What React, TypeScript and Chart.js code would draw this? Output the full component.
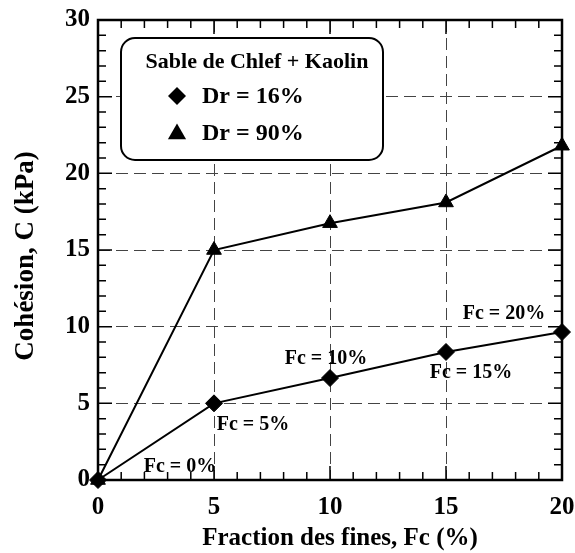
import React, { useEffect, useRef } from "react";
import { Chart, registerables } from "chart.js";

Chart.register(...registerables);

// ---- data ----
const fines = [0, 5, 10, 15, 20];
const cohesionDr16 = [0, 5.0, 6.65, 8.35, 9.65];
const cohesionDr90 = [0, 15.0, 16.75, 18.1, 21.8];
const pointLabels = ["Fc = 0%", "Fc = 5%", "Fc = 10%", "Fc = 15%", "Fc = 20%"];
const seriesNames = ["Dr = 16%", "Dr = 90%"];
const legendTitle = "Sable de Chlef + Kaolin";
const xTitle = "Fraction des fines, Fc (%)";
const yTitle = "Cohésion, C (kPa)";
const xRange = [0, 20];
const yRange = [0, 30];
const majorStep = 5;
const minorStep = 1;

// ---- style / layout ----
const FONT = "'Liberation Serif', 'Times New Roman', serif";
const labelOffsets = [
  { dx: 82, dy: -13 },
  { dx: 39, dy: 21 },
  { dx: -4, dy: -19 },
  { dx: 25, dy: 21 },
  { dx: -58, dy: -18 },
];

const framePlugin = {
  id: "frameTicks",
  beforeDatasetsDraw(chart: any) {
    const { ctx, chartArea: a, scales } = chart;
    const xs = scales.x;
    const ys = scales.y;
    ctx.save();
    ctx.strokeStyle = "#000";
    ctx.lineWidth = 1.5;
    for (let v = xRange[0]; v <= xRange[1] + 1e-9; v += minorStep) {
      const px = xs.getPixelForValue(v);
      const len = v % majorStep === 0 ? 14 : 8;
      ctx.beginPath();
      ctx.moveTo(px, a.bottom);
      ctx.lineTo(px, a.bottom - len);
      ctx.moveTo(px, a.top);
      ctx.lineTo(px, a.top + len);
      ctx.stroke();
    }
    for (let v = yRange[0]; v <= yRange[1] + 1e-9; v += minorStep) {
      const py = ys.getPixelForValue(v);
      const len = v % majorStep === 0 ? 14 : 8;
      ctx.beginPath();
      ctx.moveTo(a.left, py);
      ctx.lineTo(a.left + len, py);
      ctx.moveTo(a.right, py);
      ctx.lineTo(a.right - len, py);
      ctx.stroke();
    }
    ctx.lineWidth = 2.5;
    ctx.strokeRect(a.left, a.top, a.right - a.left, a.bottom - a.top);
    ctx.restore();
  },
};

const annotPlugin = {
  id: "annot",
  afterDatasetsDraw(chart: any) {
    const { ctx } = chart;
    ctx.save();
    // point labels
    const meta = chart.getDatasetMeta(0);
    ctx.fillStyle = "#000";
    ctx.font = `bold 20px ${FONT}`;
    ctx.textAlign = "center";
    ctx.textBaseline = "middle";
    meta.data.forEach((p: any, i: number) => {
      const o = labelOffsets[i];
      ctx.fillText(pointLabels[i], p.x + o.dx, p.y + o.dy);
    });

    // legend box
    const bx = 121, by = 38, bw = 262, bh = 122, r = 14;
    ctx.beginPath();
    ctx.moveTo(bx + r, by);
    ctx.arcTo(bx + bw, by, bx + bw, by + bh, r);
    ctx.arcTo(bx + bw, by + bh, bx, by + bh, r);
    ctx.arcTo(bx, by + bh, bx, by, r);
    ctx.arcTo(bx, by, bx + bw, by, r);
    ctx.closePath();
    ctx.fillStyle = "#fff";
    ctx.fill();
    ctx.lineWidth = 2;
    ctx.strokeStyle = "#000";
    ctx.stroke();

    ctx.fillStyle = "#000";
    ctx.font = `bold 22px ${FONT}`;
    ctx.textAlign = "center";
    ctx.fillText(legendTitle, 257, 62);

    // diamond
    const mx = 177;
    ctx.beginPath();
    ctx.moveTo(mx - 9, 96);
    ctx.lineTo(mx, 87);
    ctx.lineTo(mx + 9, 96);
    ctx.lineTo(mx, 105);
    ctx.closePath();
    ctx.fill();
    // triangle
    const tr = 10.5, ty = 134;
    ctx.beginPath();
    for (let k = 0; k < 3; k++) {
      const ang = (k * 2 * Math.PI) / 3;
      const px = mx + Math.sin(ang) * tr;
      const py = ty - Math.cos(ang) * tr;
      if (k === 0) ctx.moveTo(px, py);
      else ctx.lineTo(px, py);
    }
    ctx.closePath();
    ctx.fill();

    ctx.font = `bold 24px ${FONT}`;
    ctx.textAlign = "left";
    ctx.fillText(seriesNames[0], 202, 97);
    ctx.fillText(seriesNames[1], 202, 134);

    // axis titles
    ctx.font = `bold 25px ${FONT}`;
    ctx.textAlign = "center";
    ctx.fillText(xTitle, 340, 539);
    ctx.save();
    ctx.translate(26, 256);
    ctx.rotate(-Math.PI / 2);
    ctx.font = `bold 27px ${FONT}`;
    ctx.fillText(yTitle, 0, 0);
    ctx.restore();
    ctx.restore();
  },
};

export default function App() {
  const ref = useRef<HTMLCanvasElement | null>(null);
  useEffect(() => {
    if (!ref.current) return;
    const chart = new Chart(ref.current, {
      type: "line",
      data: {
        datasets: [
          {
            label: seriesNames[0],
            data: fines.map((x, i) => ({ x, y: cohesionDr16[i] })),
            borderColor: "#000",
            backgroundColor: "#000",
            borderWidth: 2,
            pointStyle: "rectRot",
            pointRadius: 8.5,
            pointBorderWidth: 1,
            pointBackgroundColor: "#000",
            pointBorderColor: "#000",
            tension: 0,
            clip: false as any,
          },
          {
            label: seriesNames[1],
            data: fines.map((x, i) => ({ x, y: cohesionDr90[i] })),
            borderColor: "#000",
            backgroundColor: "#000",
            borderWidth: 2,
            pointStyle: "triangle",
            pointRadius: 8.5,
            pointBorderWidth: 1,
            pointBackgroundColor: "#000",
            pointBorderColor: "#000",
            tension: 0,
            clip: false as any,
          },
        ],
      },
      options: {
        responsive: false,
        animation: false,
        events: [],
        layout: { padding: { left: 0, right: 13, top: 20, bottom: 0 } },
        plugins: { legend: { display: false }, tooltip: { enabled: false } },
        scales: {
          x: {
            type: "linear",
            min: xRange[0],
            max: xRange[1],
            afterFit: (s: any) => {
              s.height = 73;
              s.paddingLeft = 0;
              s.paddingRight = 0;
            },
            ticks: {
              stepSize: majorStep,
              autoSkip: false,
              maxRotation: 0,
              padding: 13,
              color: "#000",
              font: { family: FONT, size: 25, weight: "bold" },
            },
            grid: { color: "#444", lineWidth: 1, drawTicks: false },
            border: { display: false, dash: [12, 6] },
          },
          y: {
            type: "linear",
            min: yRange[0],
            max: yRange[1],
            afterFit: (s: any) => {
              s.width = 98;
              s.paddingTop = 0;
              s.paddingBottom = 0;
            },
            ticks: {
              stepSize: majorStep,
              autoSkip: false,
              padding: 8,
              color: "#000",
              font: { family: FONT, size: 25, weight: "bold" },
            },
            grid: { color: "#444", lineWidth: 1, drawTicks: false },
            border: { display: false, dash: [12, 6] },
          },
        },
      },
      plugins: [framePlugin, annotPlugin],
    });
    return () => chart.destroy();
  }, []);
  return (
    <div style={{ position: "absolute", left: 0, top: 0, width: 575, height: 553, background: "#fff" }}>
      <canvas ref={ref} width={575} height={553} style={{ display: "block" }} />
    </div>
  );
}
